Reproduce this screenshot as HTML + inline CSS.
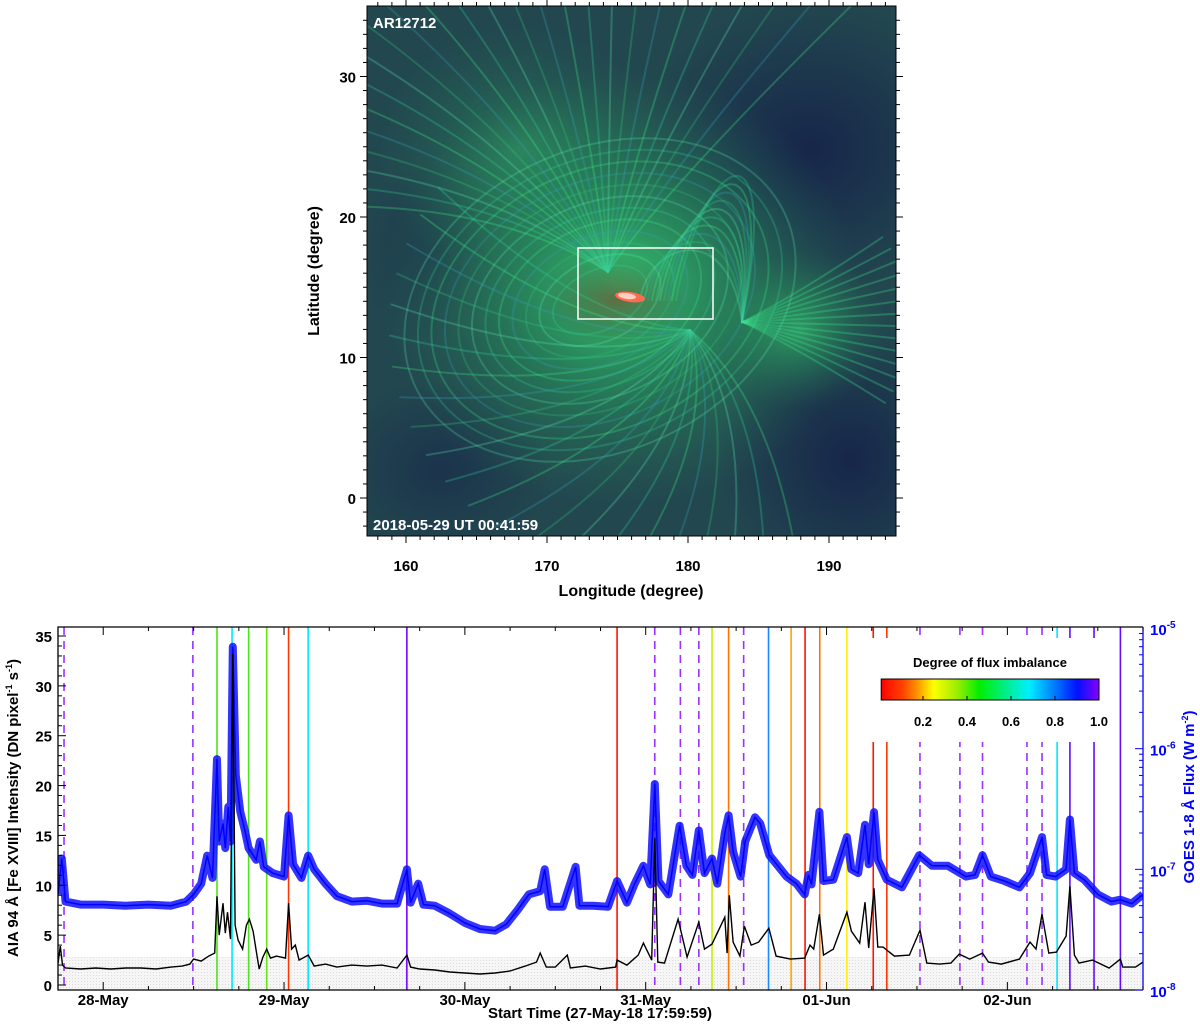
<!DOCTYPE html>
<html><head><meta charset="utf-8">
<style>
html,body{margin:0;padding:0;background:#fff;}
body{width:1200px;height:1023px;overflow:hidden;font-family:"Liberation Sans",Arial,sans-serif;}
svg text{font-family:"Liberation Sans",Arial,sans-serif;font-weight:bold;}
</style></head>
<body>
<svg id="fig" width="1200" height="1023" viewBox="0 0 1200 1023" xmlns="http://www.w3.org/2000/svg">
<defs>
  <clipPath id="imgclip"><rect x="367" y="6" width="529" height="530"/></clipPath>
  <clipPath id="plotclip"><rect x="58" y="627" width="1085" height="363"/></clipPath>
  <radialGradient id="glow" cx="0.5" cy="0.5" r="0.5">
    <stop offset="0" stop-color="#3ef07a" stop-opacity="0.75"/>
    <stop offset="0.5" stop-color="#2cc866" stop-opacity="0.35"/>
    <stop offset="1" stop-color="#2a8a5a" stop-opacity="0"/>
  </radialGradient>
  <radialGradient id="dark" cx="0.5" cy="0.5" r="0.5">
    <stop offset="0" stop-color="#16244a" stop-opacity="0.95"/>
    <stop offset="1" stop-color="#16244a" stop-opacity="0"/>
  </radialGradient>
  <radialGradient id="core" cx="0.5" cy="0.5" r="0.5">
    <stop offset="0" stop-color="#6a5a3a" stop-opacity="0.8"/>
    <stop offset="1" stop-color="#3a5a40" stop-opacity="0"/>
  </radialGradient>
  <linearGradient id="cbar" x1="0" x2="1" y1="0" y2="0">
    <stop offset="0" stop-color="#ff0000"/>
    <stop offset="0.1" stop-color="#ff4400"/>
    <stop offset="0.17" stop-color="#ff9900"/>
    <stop offset="0.24" stop-color="#ffff00"/>
    <stop offset="0.35" stop-color="#99ee00"/>
    <stop offset="0.45" stop-color="#00ee00"/>
    <stop offset="0.6" stop-color="#00eeaa"/>
    <stop offset="0.68" stop-color="#00eeff"/>
    <stop offset="0.8" stop-color="#0077ff"/>
    <stop offset="0.9" stop-color="#0011ff"/>
    <stop offset="1" stop-color="#8800ff"/>
  </linearGradient>
  <pattern id="hatch" width="3" height="3" patternUnits="userSpaceOnUse">
    <rect width="3" height="3" fill="#f6f6f6"/><rect width="1" height="1" fill="#dcdcdc"/>
  </pattern>
</defs>

<!-- ===== Top image panel ===== -->
<g id="solar-image" clip-path="url(#imgclip)">
  <rect x="367" y="6" width="529" height="530" fill="#22474f"/>
  <ellipse cx="810" cy="150" rx="170" ry="150" fill="url(#dark)"/>
  <ellipse cx="850" cy="460" rx="130" ry="140" fill="url(#dark)"/>
  <ellipse cx="440" cy="470" rx="110" ry="90" fill="url(#dark)" opacity="0.6"/>
  <ellipse cx="430" cy="250" rx="70" ry="90" fill="url(#dark)" opacity="0.4"/>
  <ellipse cx="620" cy="290" rx="240" ry="220" fill="url(#glow)"/>
  <ellipse cx="520" cy="150" rx="150" ry="130" fill="url(#glow)" opacity="0.4"/>
  <ellipse cx="800" cy="330" rx="90" ry="80" fill="url(#glow)" opacity="0.6"/>
  <ellipse cx="615" cy="300" rx="75" ry="45" fill="url(#core)"/>
  <g id="field-lines" fill="none" stroke-linecap="round"></g>
  <ellipse cx="630" cy="297" rx="15" ry="5" fill="#ff6a50" transform="rotate(8 630 297)"/>
  <ellipse cx="627" cy="296" rx="9" ry="3" fill="#ffd0c0" transform="rotate(8 627 296)"/>
</g>
<rect x="578" y="248" width="135" height="71" fill="none" stroke="#fff" stroke-width="1.5"/>
<rect x="367" y="6" width="529" height="530" fill="none" stroke="#000" stroke-width="1"/>
<text x="373" y="28" fill="#fff" font-size="15">AR12712</text>
<text x="373" y="530" fill="#fff" font-size="15">2018-05-29 UT 00:41:59</text>
<g id="top-axes"></g>
<text x="631" y="596" font-size="16" text-anchor="middle">Longitude (degree)</text>
<text transform="translate(319 271) rotate(-90)" font-size="16" text-anchor="middle">Latitude (degree)</text>

<!-- ===== Bottom time series panel ===== -->
<g id="plot">
  <rect x="58" y="627" width="1085" height="363" fill="#fff"/>
  <g id="shade" clip-path="url(#plotclip)"></g>
  <g id="vlines" clip-path="url(#plotclip)"></g>
  <g id="series" clip-path="url(#plotclip)"></g>
  <g id="legend"></g>
  <g id="bottom-axes"></g>
</g>
<text x="600" y="1018" font-size="15" text-anchor="middle">Start Time (27-May-18 17:59:59)</text>
<text transform="translate(18 808) rotate(-90)" font-size="15" text-anchor="middle">AIA 94 Å [Fe XVIII] Intensity (DN pixel<tspan dy="-6" font-size="9">-1</tspan><tspan dy="6"> s</tspan><tspan dy="-6" font-size="9">-1</tspan><tspan dy="6">)</tspan></text>
<text transform="translate(1194 797) rotate(-90)" font-size="15" fill="#0000ff" text-anchor="middle">GOES 1-8 Å Flux (W m<tspan dy="-6" font-size="9">-2</tspan><tspan dy="6">)</tspan></text>
</svg>

<script>
// ---------- chart data ----------
var dayLabels = ["28-May","29-May","30-May","31-May","01-Jun","02-Jun"];
var dayHours = [6,30,54,78,102,126];
var leftTicks = [0,5,10,15,20,25,30,35];
var rightExps = [-8,-7,-6,-5];
var cbarTicks = [0.2,0.4,0.6,0.8,1.0];
var lonTicks = [160,170,180,190];
var latTicks = [0,10,20,30];

var aiaHours = [0,0.3,0.6,1,3,5,7,9,11,13,15,16.5,17.5,18,19,20,20.8,21.1,21.4,21.9,22.2,22.5,22.9,23.2,23.5,23.9,24.5,25,25.4,25.9,26.4,26.7,27.2,27.7,28.2,29,30.2,30.6,31,31.5,32,33.2,34,35.5,37,39,41,43,45,46.3,46.8,48,50,52,54,56,58,60,62,63.5,64,64.8,66,67.6,68,70,72,74,74.2,75.5,77,77.7,78.8,79.2,79.6,80.5,82.3,83.5,85.05,85.8,86.8,88.5,88.8,89.1,89.6,90.5,91.1,92,93,94.35,95.3,97.2,99.1,99.8,100.3,101.05,101.6,102.9,104.7,105.3,106.4,107.1,107.6,108.3,108.8,109.5,111,113,114.4,115.3,117,118.5,119.6,121,122.7,123.5,125.2,127.6,129,129.8,130.6,131.5,132.5,133.8,134.3,134.9,135.5,137.3,139.5,141,141.3,143,144];
var aiaValues = [2.2,3.9,2.0,1.7,1.6,1.7,1.6,1.7,1.7,1.6,1.8,1.9,2.1,2.6,2.4,2.9,3.2,8.9,5.0,8.2,5.2,7.3,4.6,33.2,6.0,4.5,3.6,6.0,6.6,5.4,3.0,1.6,2.8,3.6,2.7,2.9,2.7,8.2,3.6,4.0,2.5,3.0,1.9,2.1,1.8,2.0,1.9,2.0,1.7,3.0,1.8,1.6,1.5,1.3,1.2,1.1,1.2,1.4,1.9,2.3,3.2,1.8,1.8,3.0,1.7,1.9,1.6,1.8,2.5,2.0,3.0,4.2,2.5,14.7,2.3,2.2,6.6,2.8,6.3,3.6,4.1,6.8,3.2,9.0,4.3,2.9,5.9,4.0,4.3,5.7,2.9,2.6,2.7,4.0,3.6,7.1,3.0,3.6,7.3,5.4,4.2,8.3,3.7,9.7,3.8,3.8,2.9,3.0,5.5,2.2,2.1,2.2,3.1,2.6,3.2,2.3,2.1,2.6,4.3,3.6,7.1,3.2,3.3,4.9,9.9,3.0,2.2,2.5,1.7,2.6,1.8,1.8,2.3];

// GOES flux in units of 1e-8 W m^-2
var goesHours = [0,0.5,1,3,6,9,12,15,17,18,19,19.8,20.5,21.1,21.4,21.9,22.2,22.6,22.9,23.2,23.6,24.2,24.8,25.3,26.3,26.8,27.3,28.5,30,30.6,31.2,32.3,33.2,34,35.5,37,39,41,43,45,46.3,46.8,47.8,48.5,50,52,54,56,58,59.5,61,62.5,64,64.6,65.3,67,68.7,69.2,71,73,74.2,75.5,76.5,77.7,78.6,79.2,79.7,81,82.5,83.4,84.2,85.05,85.8,86.8,87.5,88.5,89,89.6,90.6,91.2,92.5,93.2,94.4,96.7,98,99.1,99.6,100,101.05,101.6,102.9,104.7,105.3,106.2,107.1,107.6,108.3,108.8,110,112,114.3,116,118.1,120.5,121.7,122.7,123.8,125.6,127.6,129,130.6,131.2,132.4,133.8,134.3,134.9,136.2,138,139.8,141,142.5,144];
var goesValues = [6.2,12.3,5.4,5.1,5.1,5.0,5.1,5.0,5.4,6.2,7.6,13,8.5,82,17,24,15,33,17,700,60,30,21,15,12,17,10.5,9.3,8.7,28,11,8.5,13,10,7.6,6.0,5.4,5.5,5.2,5.2,10,5.3,7.6,5.1,5.0,4.3,3.6,3.2,3.1,3.5,4.6,6.2,6.6,10,4.9,4.9,10.5,5.0,5.0,4.9,8,5.3,7.5,10.7,7.5,51,8,6.2,23,10.7,9,21,9.3,12.3,7.6,20,28,14,8.7,17,27,24,13.1,8.7,7.6,6.2,9,7.5,30,8,8.2,18.5,10,9.3,23.4,11,29.8,12,8.2,7.1,13.1,10.7,10.7,8.7,9,13.1,8.7,8,7.1,9.3,18.5,9,8.7,10,25.9,9.3,8.2,6.2,5.4,5.6,5.2,6.2];

// Event markers: hour, degree of flux imbalance (colour), dashed flag
var eventHours = [0.8,17.9,21.1,23.1,25.3,27.7,30.6,33.2,46.3,74.2,79.2,82.6,85.05,86.8,89.0,91.0,94.3,97.3,99.15,101.1,104.7,108.2,110.0,114.4,119.7,122.7,128.6,130.6,132.6,134.3,137.5,141.0];
var eventImbalance = [1.0,1.0,0.42,0.68,0.42,0.40,0.08,0.68,0.98,0.03,1.0,1.0,1.0,0.30,0.14,1.0,0.78,0.18,0.03,0.14,0.24,0.03,0.08,1.0,1.0,1.0,1.0,1.0,0.68,0.96,0.96,0.96];
var eventDashed = [1,1,0,0,0,0,0,0,0,0,1,1,1,0,0,1,0,0,0,0,0,0,0,1,1,1,1,1,0,0,0,0];

// ---------- axis functions ----------
var PX0=58, PX1=1143, PY0=627, PY1=990;
function xT(h){ return PX0 + (h/144)*(PX1-PX0); }
function yL(v){ return 985 - v*(985-636)/35; }
function yR(f){ var lg=Math.log10(f*1e-8); return 990 - (lg+8)*(990-628)/3; }
var IX0=367, IY0=6, IX1=896, IY1=536;
function xLon(l){ return 406 + (l-160)*14.1; }
function yLat(b){ return 498 - b*14.05; }
function cbX(v){ return 879 + v*(1099-879); }

var NS="http://www.w3.org/2000/svg";
function mk(tag, attrs, parent){ var e=document.createElementNS(NS,tag); for(var k in attrs) e.setAttribute(k,attrs[k]); parent.appendChild(e); return e; }

function imbColor(v){
  var stops=[[0,[255,0,0]],[0.1,[255,68,0]],[0.17,[255,153,0]],[0.24,[255,240,0]],[0.35,[160,235,0]],[0.45,[40,225,40]],[0.6,[0,235,170]],[0.68,[0,230,255]],[0.8,[30,120,255]],[0.9,[40,30,255]],[1,[136,0,255]]];
  for(var i=1;i<stops.length;i++){ if(v<=stops[i][0]){ var a=stops[i-1],b=stops[i],t=(v-a[0])/(b[0]-a[0]);
    return 'rgb('+[0,1,2].map(function(j){return Math.round(a[1][j]+t*(b[1][j]-a[1][j]));}).join(',')+')'; } }
  return 'rgb(136,0,255)';
}

// ---------- field lines (decorative) ----------
(function(){
  var g=document.getElementById('field-lines');
  var cols=['#3cf08a','#2fd59a','#5ae6b0','#33c47a','#3aa0c0'];
  var i,a;
  for(i=0;i<26;i++){ a=-3.0+ i*0.085;
    var ex=608+Math.cos(a)*420, ey=272+Math.sin(a)*380;
    var p=mk('path',{d:'M608 272 Q'+(560+Math.cos(a+0.4)*120)+' '+(240+Math.sin(a+0.4)*120)+' '+ex+' '+ey, stroke:cols[i%5], 'stroke-width':2, 'stroke-opacity':0.28},g);
    
    
  }
  for(i=0;i<12;i++){
    var e=mk('ellipse',{cx:600,cy:300,rx:50+i*14,ry:30+i*11,transform:'rotate(-25 600 300)',stroke:cols[(i+1)%5],'stroke-width':2,'stroke-opacity':0.25},g);
    
    
  }
  for(i=0;i<22;i++){ a=1.2+ i*0.12;
    var p2=mk('path',{d:'M690 330 Q'+(690+Math.cos(a-0.5)*110)+' '+(330+Math.sin(a-0.5)*110)+' '+(690+Math.cos(a)*300)+' '+(330+Math.sin(a)*260), stroke:cols[i%5],'stroke-width':2,'stroke-opacity':0.28},g);
    
    
  }
  for(i=0;i<10;i++){
    var p3=mk('path',{d:'M'+(640+i*4)+' 300 C'+(650+i*6)+' '+(240-i*10)+' '+(730+i*6)+' '+(220-i*12)+' '+(742)+' 322', stroke:cols[(i+2)%5],'stroke-width':2,'stroke-opacity':0.28},g);
    
    
  }
  for(i=0;i<14;i++){ a=-0.6+ i*0.09;
    var p4=mk('path',{d:'M742 322 Q'+(790)+' '+(322+Math.sin(a)*40)+' '+(742+Math.cos(a)*170)+' '+(322+Math.sin(a)*150), stroke:'#3ae690','stroke-width':2,'stroke-opacity':0.3},g);
    
    
  }
})();

// ---------- top axes ----------
(function(){
  var g=document.getElementById('top-axes'), l, t;
  for(var lo=158; lo<=194; lo++){
    var x=xLon(lo), maj=(lo%10===0), len=maj?7:4;
    l=mk('line',{x1:x,y1:IY1,x2:x,y2:IY1+len,stroke:'#000','stroke-width':1},g);
     
    l=mk('line',{x1:x,y1:IY0,x2:x,y2:IY0-len,stroke:'#000','stroke-width':1},g);
     
  }
  for(var la=-2; la<=34; la++){
    var y=yLat(la), mj=(la%10===0), ln=mj?7:4;
    l=mk('line',{x1:IX0,y1:y,x2:IX0-ln,y2:y,stroke:'#000','stroke-width':1},g);
     
    l=mk('line',{x1:IX1,y1:y,x2:IX1+ln,y2:y,stroke:'#000','stroke-width':1},g);
     
  }
  lonTicks.forEach(function(v){ t=mk('text',{x:xLon(v),y:571,'font-size':15,'text-anchor':'middle'},g); t.textContent=v;
      });
  latTicks.forEach(function(v){ t=mk('text',{x:356,y:yLat(v)+6,'font-size':15,'text-anchor':'end'},g); t.textContent=v;
      });
})();

// ---------- bottom plot ----------
(function(){
  var sh=document.getElementById('shade');
  var r=mk('rect',{x:PX0,y:yL(2.8),width:PX1-PX0,height:PY1-yL(2.8),fill:'url(#hatch)'},sh);
   

  var vg=document.getElementById('vlines');
  eventHours.forEach(function(h,i){
    var x=xT(h), c=eventDashed[i]?'#9b30ff':imbColor(eventImbalance[i]);
    var attrs={x1:x,y1:PY0,x2:x,y2:PY1,stroke:c,'stroke-width':1.6};
    if(eventDashed[i]) attrs['stroke-dasharray']='8,6';
    var ln=mk('line',attrs,vg);
    
    
  });

  var sg=document.getElementById('series');
  var d='';
  goesHours.forEach(function(h,i){ d+=(i?'L':'M')+xT(h).toFixed(1)+' '+yR(goesValues[i]).toFixed(1); });
  var pb=mk('path',{d:d,fill:'none',stroke:'#1010ff','stroke-width':8,'stroke-linejoin':'round','stroke-opacity':0.85},sg);
   
  var pb2=mk('path',{d:d,fill:'none',stroke:'#0000ff','stroke-width':1.5,'stroke-linejoin':'miter'},sg);
   
  d='';
  aiaHours.forEach(function(h,i){ d+=(i?'L':'M')+xT(h).toFixed(1)+' '+yL(aiaValues[i]).toFixed(1); });
  var pk=mk('path',{d:d,fill:'none',stroke:'#000','stroke-width':1.4,'stroke-linejoin':'miter'},sg);
   

  var lg=document.getElementById('legend');
  var bg=mk('rect',{x:866,y:638,width:250,height:104,fill:'#fff'},lg);
   
  var tt=mk('text',{x:990,y:667,'font-size':13,'text-anchor':'middle'},lg); tt.textContent='Degree of flux imbalance';
   
  var cb=mk('rect',{x:cbX(0.01),y:679,width:cbX(1)-cbX(0.01),height:21,fill:'url(#cbar)',stroke:'#000','stroke-width':1},lg);
   
  cbarTicks.forEach(function(v){
    var tk=mk('line',{x1:cbX(v),y1:700,x2:cbX(v),y2:696,stroke:'#000'},lg);
     
    var t=mk('text',{x:cbX(v),y:726,'font-size':13,'text-anchor':'middle'},lg); t.textContent=v.toFixed(1);
     
  });

  var ag=document.getElementById('bottom-axes'), l, t;
  var fr=mk('path',{d:'M'+PX1+' '+PY0+'L'+PX0+' '+PY0+'L'+PX0+' '+PY1+'L'+PX1+' '+PY1,fill:'none',stroke:'#000','stroke-width':1.3},ag);
   
  var ra=mk('line',{x1:PX1,y1:PY0,x2:PX1,y2:PY1,stroke:'#0000ff','stroke-width':1.3},ag);
   
  for(var h=0; h<=144; h+=6){
    var x=xT(h), mj=((h-6)%24===0), ln=mj?8:4;
    l=mk('line',{x1:x,y1:PY1,x2:x,y2:PY1-ln,stroke:'#000'},ag);
     
    l=mk('line',{x1:x,y1:PY0,x2:x,y2:PY0+ln,stroke:'#000'},ag);
     
  }
  dayLabels.forEach(function(s,i){ t=mk('text',{x:xT(dayHours[i]),y:1005,'font-size':15,'text-anchor':'middle'},ag); t.textContent=s;
      });
  for(var v=0; v<=35; v++){
    var y=yL(v), m=(v%5===0);
    l=mk('line',{x1:PX0,y1:y,x2:PX0+(m?8:4),y2:y,stroke:'#000'},ag);
     
  }
  leftTicks.forEach(function(v){ t=mk('text',{x:52,y:yL(v)+6,'font-size':15,'text-anchor':'end'},ag); t.textContent=v;
      });
  for(var e=-8; e<-5; e++){
    for(var k=1;k<10;k++){
      var yy=yR(k*Math.pow(10,e+8));
      l=mk('line',{x1:PX1,y1:yy,x2:PX1-(k===1?8:4),y2:yy,stroke:'#0000ff'},ag);
       
    }
  }
  rightExps.forEach(function(ex){
    t=mk('text',{x:1150,y:yR(Math.pow(10,ex+8))+7,'font-size':15,fill:'#0000ff'},ag);
    t.textContent='10';
    var sp=document.createElementNS(NS,'tspan'); sp.setAttribute('dy','-7'); sp.setAttribute('font-size','10'); sp.textContent=String(ex); t.appendChild(sp);
     
  });
})();
</script>
</body></html>
